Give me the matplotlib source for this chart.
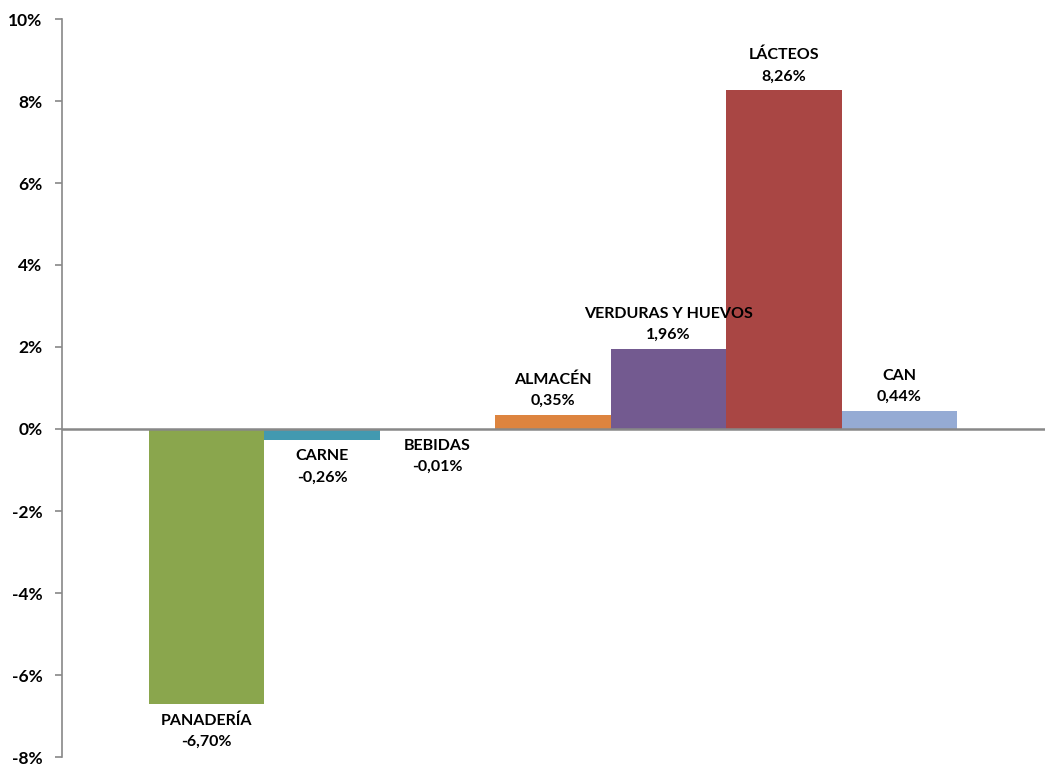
import numpy as np
import matplotlib.pyplot as plt
from matplotlib.ticker import FuncFormatter

plt.rcParams['font.family'] = ['Lato', 'DejaVu Sans']

categorias = ['PANADERÍA', 'CARNE', 'BEBIDAS', 'ALMACÉN', 'VERDURAS Y HUEVOS', 'LÁCTEOS', 'CAN']
valores = [-6.70, -0.26, -0.01, 0.35, 1.96, 8.26, 0.44]
colores = ['#8aa64d', '#4299b0', '#4299b0', '#dd843f', '#735a90', '#a94644', '#95abd4']

fig = plt.figure(figsize=(10.45, 7.67), dpi=100)
ax = fig.add_axes([62 / 1045, 1 - 757 / 767, 1 - 62 / 1045, (757 - 19) / 767])

x = np.arange(len(categorias))
ax.bar(x, valores, width=1.0, color=colores, zorder=2)

# etiquetas con nombre y valor
for xi, nombre, v in zip(x, categorias, valores):
    texto = f'{nombre}\n{v:.2f}%'.replace('.', ',')
    if v >= 0:
        ax.annotate(texto, (xi, v), xytext=(0, 5), textcoords='offset points',
                    ha='center', va='bottom', fontsize=11.5, fontweight='bold',
                    linespacing=1.65, zorder=5)
    else:
        ax.annotate(texto, (xi, v), xytext=(0, -7), textcoords='offset points',
                    ha='center', va='top', fontsize=11.5, fontweight='bold',
                    linespacing=1.65, zorder=5)

ax.axhline(0, color='#888888', linewidth=1.8, zorder=3)

ax.set_xlim(-1.253, 7.262)
ax.set_ylim(-8, 10)
ax.set_yticks(np.arange(-8, 11, 2))
ax.yaxis.set_major_formatter(FuncFormatter(lambda v, p: f'{v:.0f}%'))
ax.set_xticks([])

for s in ['top', 'right', 'bottom']:
    ax.spines[s].set_visible(False)
ax.spines['left'].set_color('#888888')
ax.spines['left'].set_linewidth(1.2)
ax.tick_params(axis='y', direction='out', length=5, color='#888888', width=1.2,
               labelsize=12.5, pad=9)
for lbl in ax.get_yticklabels():
    lbl.set_fontweight('bold')

fig.savefig('out.png', dpi=100)
